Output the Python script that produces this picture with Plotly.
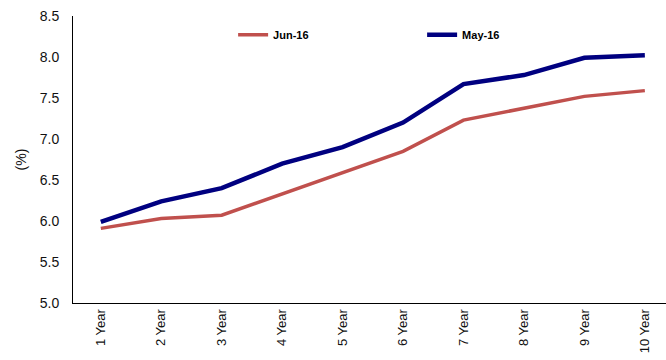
import plotly.graph_objects as go

categories = ["1 Year", "2 Year", "3 Year", "4 Year", "5 Year",
              "6 Year", "7 Year", "8 Year", "9 Year", "10 Year"]
jun16 = [5.91, 6.03, 6.07, 6.33, 6.58, 6.85, 7.23, 7.37, 7.52, 7.59]
may16 = [5.99, 6.24, 6.40, 6.70, 6.90, 7.20, 7.67, 7.78, 7.99, 8.02]
y_ticks = [5.0, 5.5, 6.0, 6.5, 7.0, 7.5, 8.0, 8.5]

fig = go.Figure()
fig.add_trace(go.Scatter(x=categories, y=jun16, mode="lines", name="Jun-16",
                         line=dict(color="#C0504D", width=3.5)))
fig.add_trace(go.Scatter(x=categories, y=may16, mode="lines", name="May-16",
                         line=dict(color="#000080", width=4.5)))

fig.update_layout(
    width=666, height=360,
    margin=dict(l=73, r=0, t=16, b=57, autoexpand=False),
    paper_bgcolor="white", plot_bgcolor="white",
    font=dict(family="Arial, Liberation Sans, sans-serif", color="#111"),
    showlegend=True,
    legend=dict(orientation="h", x=0.27, xanchor="left", y=0.985, yanchor="top",
                font=dict(size=11, color="black", family="Arial, Liberation Sans, sans-serif", weight="bold"),
                entrywidth=144, entrywidthmode="pixels", itemwidth=30,
                bgcolor="rgba(0,0,0,0)"),
    xaxis=dict(type="category", range=[-0.46, 9.35], showline=True, linecolor="black",
               linewidth=1, showgrid=False, ticks="", tickangle=-90,
               tickfont=dict(size=13, color="#111"), zeroline=False, automargin=False),
    yaxis=dict(range=[5.0, 8.5], tickvals=y_ticks, ticktext=[f"{v:.1f}" for v in y_ticks],
               showline=True, linecolor="black", linewidth=1, showgrid=False, ticks="",
               tickfont=dict(size=14, color="#111"), zeroline=False, automargin=False,
               ticklabelstandoff=10,
               title=dict(text="(%)", font=dict(size=14, color="#111"), standoff=9)),
)

fig.write_html("out.html")
